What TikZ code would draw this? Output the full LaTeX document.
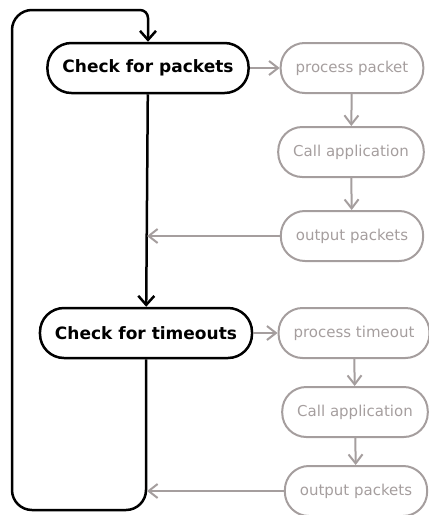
\documentclass[tikz,border=0pt]{standalone}
\usepackage{fontspec}
\setmainfont{DejaVu Sans}
\usetikzlibrary{arrows.meta}
\definecolor{faded}{RGB}{165,158,158}
\begin{document}
\begin{tikzpicture}[x=1pt,y=-1pt]
        \tikzstyle{step box}=[draw, rectangle, rounded corners=24pt, minimum height=50pt,
            inner xsep=15pt, line width=2.5pt, font=\fontsize{17}{20}\selectfont\bfseries]
        \tikzstyle{task}=[step box, draw=faded, text=faded, line width=2pt,
            font=\fontsize{15}{18}\selectfont]
        \tikzstyle{flow}=[line width=2.5pt, -{Straight Barb[length=9pt,width=16pt,line width=2.5pt]}]
        \tikzstyle{hand}=[draw=faded, line width=2pt, -{Straight Barb[length=9pt,width=14pt,line width=2pt]}]
        \useasboundingbox (0,0) rectangle (429,515);

        % main loop
        \node[step box] (pkt) at (148,68) {Check for packets};
        \node[step box] (tout) at (146,333) {Check for timeouts};

        % packet handling
        \node[task] (procpkt) at (352,68) {process packet};
        \node[task] (callpkt) at (351,152) {Call application};
        \node[task] (outpkt) at (352,236) {output packets};

        % timeout handling
        \node[task] (proctout) at (354,333) {process timeout};
        \node[task] (calltout) at (355,412) {Call application};
        \node[task] (outtout) at (356,491) {output packets};

        \coordinate (bl) at (12,510);
        \coordinate (tl) at (12,10);
        \coordinate (j1) at (147,236);
        \coordinate (j2) at (147,491);

        \draw[flow] (pkt) -- (tout);
        \draw[flow, rounded corners=20pt] (tout.south) |- (bl) -- (tl) [rounded corners=8pt] -| (pkt.north);

        \draw[hand] (pkt) -- (procpkt);
        \draw[hand] (procpkt) -- (callpkt);
        \draw[hand] (callpkt) -- (outpkt);
        \draw[hand] (outpkt) -- (j1);

        \draw[hand] (tout) -- (proctout);
        \draw[hand] (proctout) -- (calltout);
        \draw[hand] (calltout) -- (outtout);
        \draw[hand] (outtout) -- (j2);
    \end{tikzpicture}
\end{document}
